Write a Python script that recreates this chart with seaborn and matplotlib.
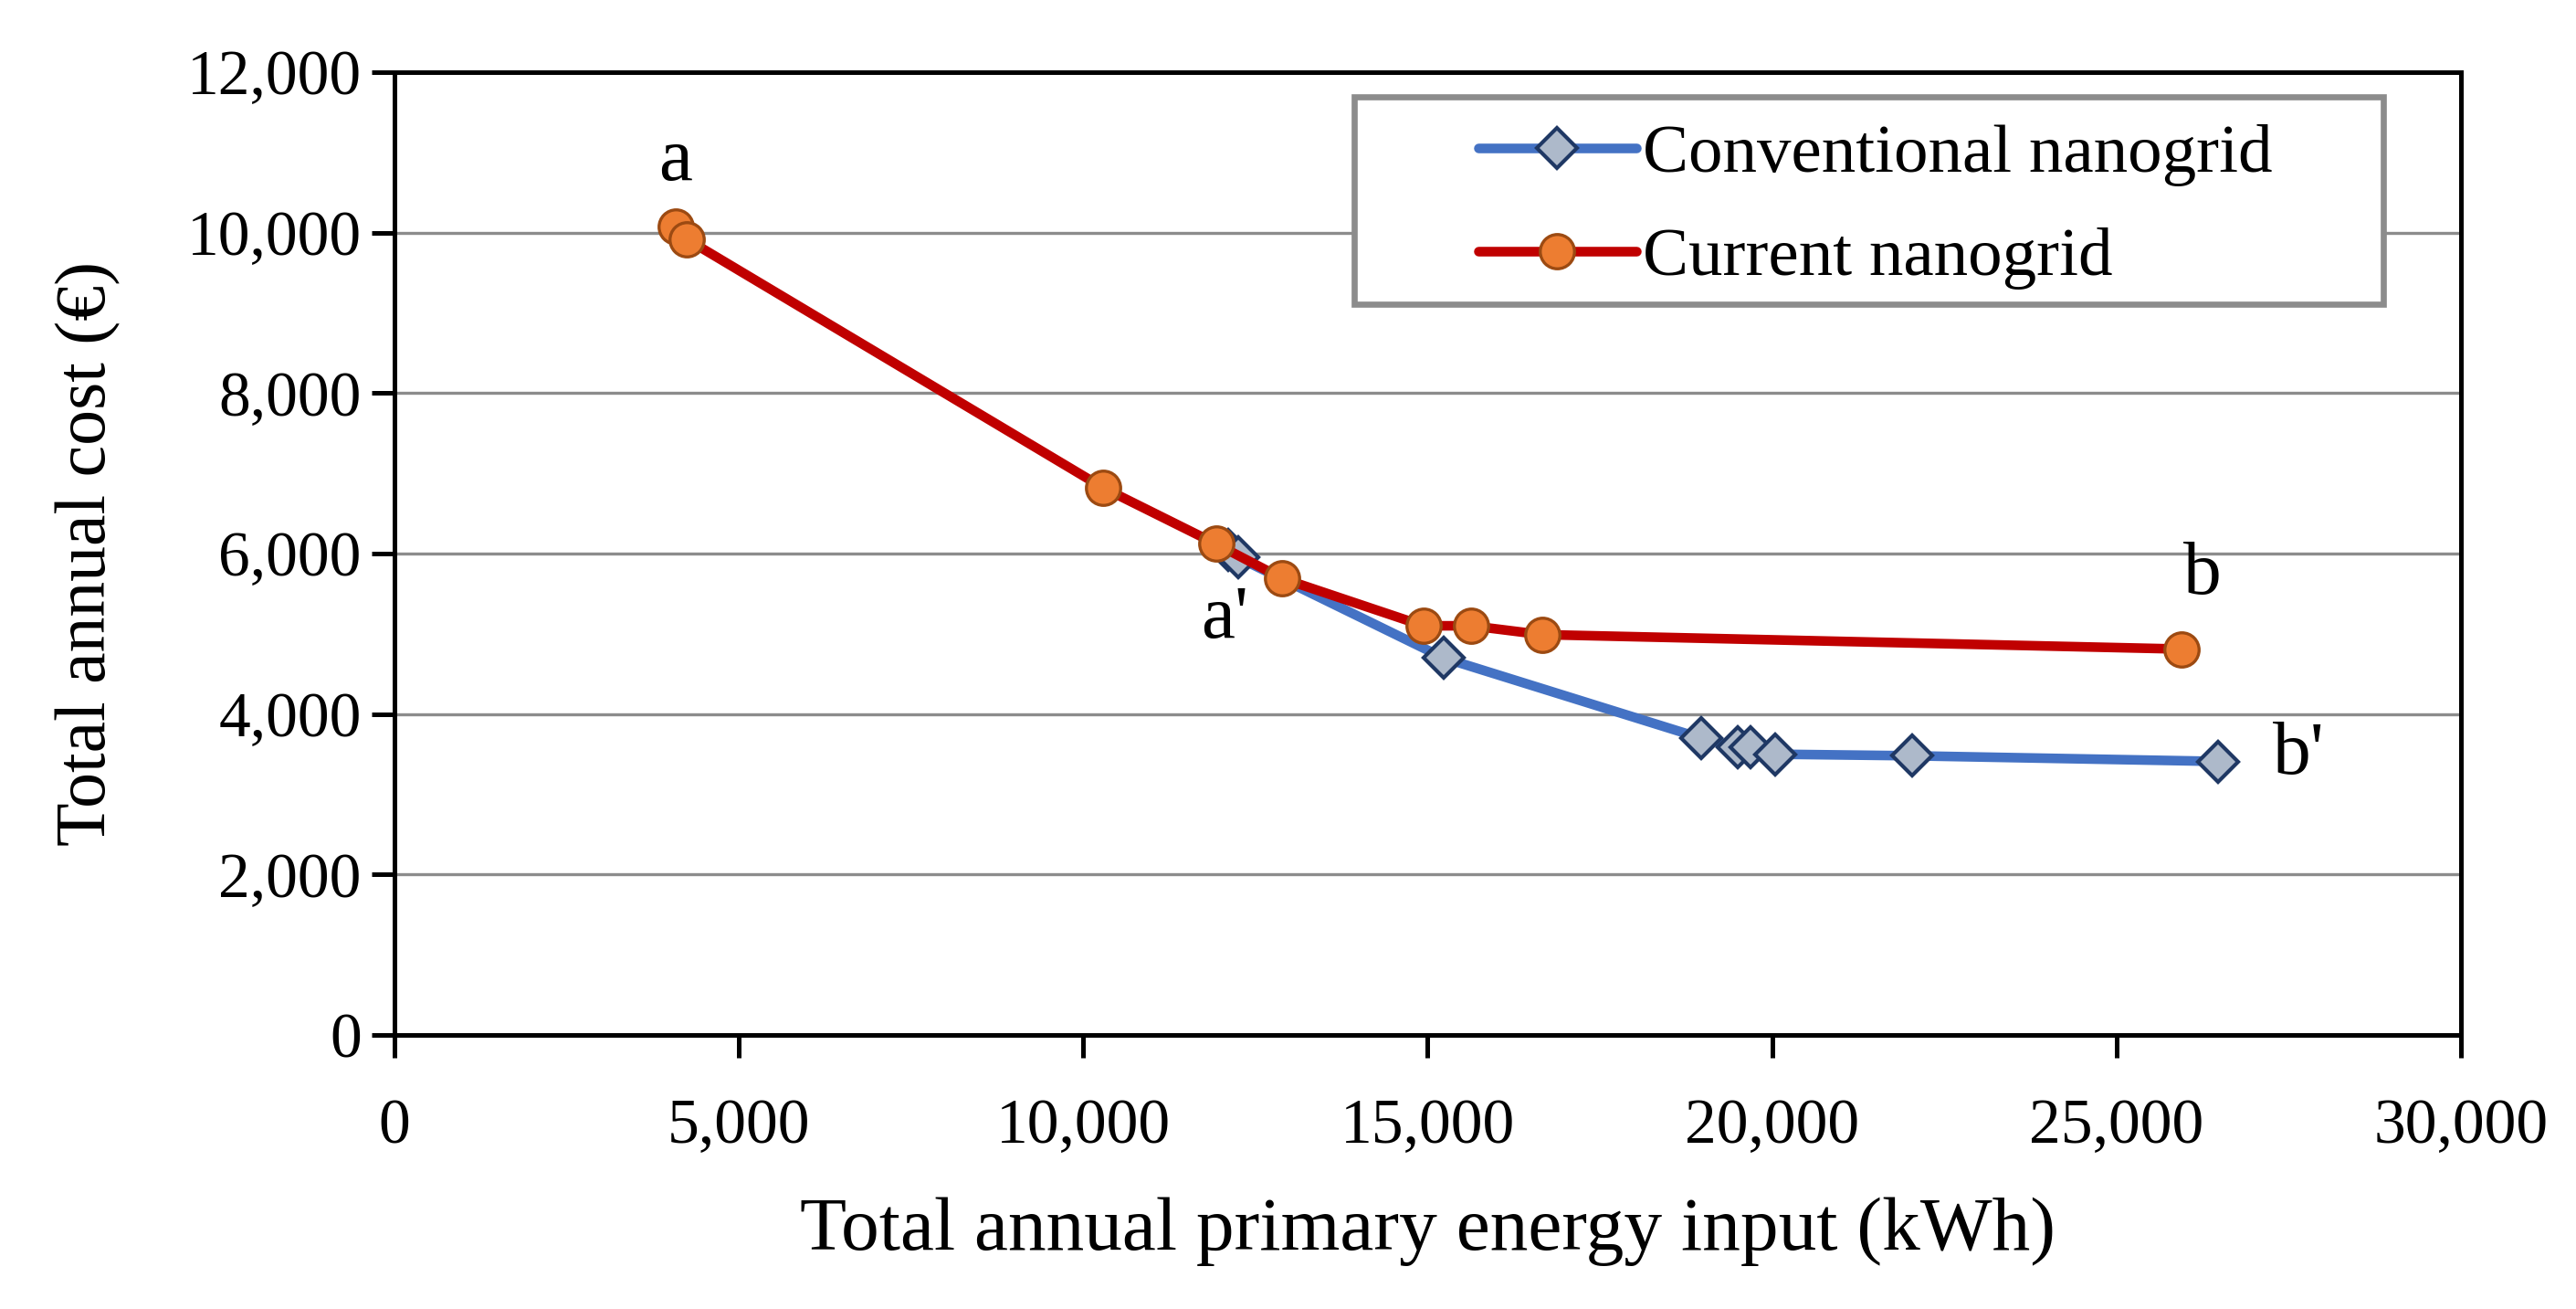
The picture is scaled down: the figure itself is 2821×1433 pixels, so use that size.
import matplotlib
matplotlib.use("Agg")
import matplotlib.pyplot as plt
import pandas as pd
import seaborn as sns
from matplotlib.patches import Rectangle
from matplotlib.ticker import FuncFormatter, MultipleLocator

# data
conv_energy = [12100, 12250, 15230, 18970, 19500, 19690, 20040, 22040, 26470]
conv_cost = [6050, 5950, 4700, 3700, 3590, 3590, 3500, 3480, 3410]

curr_energy = [4080, 4240, 10290, 11930, 12890, 14940, 15630, 16660, 25940]
curr_cost = [10080, 9920, 6820, 6120, 5690, 5100, 5100, 4990, 4810]

point_labels = ["a", "a'", "b", "b'"]
label_x = [4080, 12050, 26250, 27650]
label_y = [10450, 4750, 5300, 3050]

sns.set_style("white")
plt.rcParams["font.family"] = ["Liberation Serif", "DejaVu Serif"]
plt.rcParams["text.color"] = "black"

df_conv = pd.DataFrame({"energy": conv_energy, "cost": conv_cost})
df_curr = pd.DataFrame({"energy": curr_energy, "cost": curr_cost})

fig = plt.figure(figsize=(14.105, 7.165), dpi=200)
ax = fig.add_axes([0.1531, 0.2093, 0.8022, 0.7356])

sns.lineplot(data=df_conv, x="energy", y="cost", sort=False, ax=ax,
             color="#4472C4", linewidth=3.8, marker="D", markersize=11,
             markerfacecolor="#ADB9CA", markeredgecolor="#1F3864",
             markeredgewidth=1.5, label="Conventional nanogrid", zorder=3)
sns.lineplot(data=df_curr, x="energy", y="cost", sort=False, ax=ax,
             color="#C00000", linewidth=3.8, marker="o", markersize=13.5,
             markerfacecolor="#ED7D31", markeredgecolor="#9C4A12",
             markeredgewidth=1.2, label="Current nanogrid", zorder=4)

for t, x, y in zip(point_labels, label_x, label_y):
    ax.text(x, y, t, fontsize=30, ha="center", va="bottom")

ax.set_xlim(0, 30000)
ax.set_ylim(0, 12000)
ax.xaxis.set_major_locator(MultipleLocator(5000))
ax.yaxis.set_major_locator(MultipleLocator(2000))
fmt = FuncFormatter(lambda v, p: f"{int(v):,}")
ax.xaxis.set_major_formatter(fmt)
ax.yaxis.set_major_formatter(fmt)

ax.grid(axis="y", color="#8c8c8c", linewidth=1.2)
ax.set_axisbelow(True)
for s in ax.spines.values():
    s.set_color("black")
    s.set_linewidth(1.8)

ax.tick_params(axis="both", direction="out", length=9, width=1.8,
               labelsize=25, colors="black", bottom=True, left=True)
ax.tick_params(axis="x", pad=16)
ax.tick_params(axis="y", pad=4)
ax.set_xlabel("Total annual primary energy input (kWh)", fontsize=30,
              labelpad=16, color="black")
ax.set_ylabel("Total annual cost (€)", fontsize=28, labelpad=26, color="black")

# legend frame drawn as its own box
ax.add_patch(Rectangle((0.4646, 0.7586), 0.498, 0.2157, transform=ax.transAxes,
                       facecolor="white", edgecolor="#8c8c8c", linewidth=2.4,
                       zorder=5))
leg = ax.legend(loc="upper left", bbox_to_anchor=(0.508, 0.982), fontsize=27,
                frameon=False, handlelength=2.3, borderpad=0,
                labelspacing=0.6, handletextpad=0.1)
leg.set_zorder(6)

fig.savefig("out.png", dpi=200, facecolor="white")
